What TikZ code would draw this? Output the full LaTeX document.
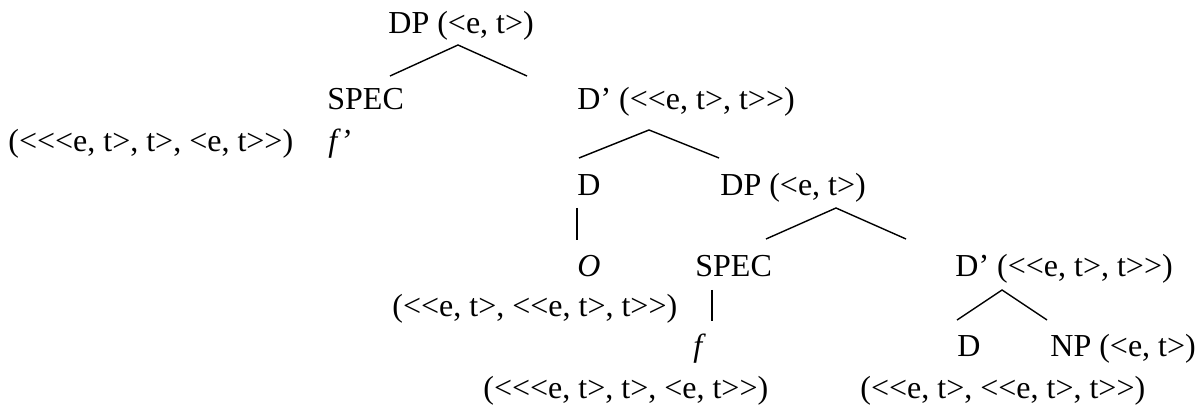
\documentclass[tikz,border=0pt]{standalone}
\usepackage{fontspec}
\setmainfont{Liberation Serif}[Ligatures=TeXOff]

\begin{document}
\begin{tikzpicture}[x=0.5pt, y=-0.5pt,
    lab/.style={anchor=base west, inner sep=0pt, font=\fontsize{16}{19}\selectfont},
    edge/.style={black, line width=0.7pt}]
  \useasboundingbox (0,0) rectangle (1199,411);

  % upper DP
  \node[lab] (dpA) at (388,34) {DP (<e, t>)};

  \node[lab] (specA) at (327,110) {SPEC};
  \node[lab] (dbarA) at (577,110) {D’ (<<e, t>, t>>)};

  \node[lab] (typeF1) at (8,152) {(<<<e, t>, t>, <e, t>>)};
  \node[lab] (fprime) at (328,152) {\textit{f’}};

  % D' splits into D and the lower DP
  \node[lab] (dA) at (577,196) {D};
  \node[lab] (dpB) at (720,196) {DP (<e, t>)};

  \node[lab] (opO) at (577,277) {\textit{O}};
  \node[lab] (specB) at (695,277) {SPEC};
  \node[lab] (dbarB) at (955,277) {D’ (<<e, t>, t>>)};

  \node[lab] (typeO) at (392,316) {(<<e, t>, <<e, t>, t>>)};

  \node[lab] (fn) at (693,357) {\textit{f}};
  \node[lab] (dB) at (957,357) {D};
  \node[lab] (np) at (1050,357) {NP (<e, t>)};

  \node[lab] (typeF2) at (483,398) {(<<<e, t>, t>, <e, t>>)};
  \node[lab] (typeD) at (860,398) {(<<e, t>, <<e, t>, t>>)};

  % branches
  \coordinate (dpA-top) at (458,45);
  \coordinate (dpA-l) at (390,76);
  \coordinate (dpA-r) at (527,76);
  \draw[edge] (dpA-l) -- (dpA-top) -- (dpA-r);

  \coordinate (dbarA-top) at (649,130);
  \coordinate (dbarA-l) at (579,158);
  \coordinate (dbarA-r) at (719,158);
  \draw[edge] (dbarA-l) -- (dbarA-top) -- (dbarA-r);

  \coordinate (dpB-top) at (836,208);
  \coordinate (dpB-l) at (766,239);
  \coordinate (dpB-r) at (906,239);
  \draw[edge] (dpB-l) -- (dpB-top) -- (dpB-r);

  \coordinate (dbarB-top) at (1002,290);
  \coordinate (dbarB-l) at (957,320);
  \coordinate (dbarB-r) at (1047,320);
  \draw[edge] (dbarB-l) -- (dbarB-top) -- (dbarB-r);

  % unary lines
  \coordinate (dA-down) at (577,208);
  \coordinate (opO-up) at (577,240);
  \draw[edge] (dA-down) -- (opO-up);

  \coordinate (specB-down) at (712,290);
  \coordinate (fn-up) at (712,321);
  \draw[edge] (specB-down) -- (fn-up);
\end{tikzpicture}
\end{document}
